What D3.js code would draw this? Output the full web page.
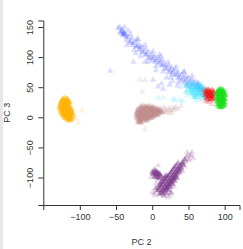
<!DOCTYPE html>
<html lang="en">
<head>
  <meta charset="UTF-8">
  <title>PC 2 vs PC 3</title>
  <script src="https://d3js.org/d3.v7.min.js"></script>
  <style>
    body { margin: 0; background: #fff; }
    text { font-family: "Liberation Sans", Arial, sans-serif; }
  </style>
</head>
<body>
  <script>

    // tick values
    var xTicks = [-100, -50, 0, 50, 100];
    var yTicks = [-100, -50, 0, 50, 100, 150];

    // points per group, [PC 2, PC 3]; core = dense part, faint = scattered ones
    var orangeCore = [[-123,31],[-120,32],[-117,30],[-125,28],[-122,28],[-119,27],[-116,28],
      [-126,25],[-123,24],[-120,25],[-117,24],[-114,25],[-127,22],[-124,21],[-121,22],[-118,21],[-115,22],
      [-127,19],[-124,18],[-121,19],[-118,18],[-115,19],[-128,16],[-125,15],[-122,16],[-119,15],[-116,16],[-113,15],
      [-127,13],[-124,12],[-121,13],[-118,12],[-115,13],[-112,12],[-126,10],[-123,9],[-120,10],[-117,9],[-114,10],[-111,9],
      [-125,7],[-122,6],[-119,7],[-116,6],[-113,7],[-110,6],[-124,4],[-121,3],[-118,4],[-115,3],[-112,4],
      [-122,1],[-119,0],[-116,1],[-113,0],[-110,1],[-120,-2],[-117,-3],[-114,-2],[-111,-3],[-116,-5],[-113,-5]];
    var orangeFaint = [[-108,4],[-97,11],[-102,-9],[-106,-1],[-109,14]];

    var rosyCore = [[-16,18],[-12,19],[-8,18],[-4,19],[0,17],
      [-20,14],[-16,15],[-12,14],[-8,15],[-4,14],[0,14],[4,15],[8,14],
      [-21,10],[-17,11],[-13,10],[-9,10],[-5,11],[-1,10],[3,10],[7,11],[11,10],
      [-22,6],[-18,6],[-14,7],[-10,6],[-6,6],[-2,7],[2,6],[6,6],[10,7],[14,8],
      [-22,2],[-18,2],[-14,3],[-10,2],[-6,2],[-2,3],[2,2],[6,3],
      [-21,-2],[-17,-2],[-13,-1],[-9,-2],[-5,-2],[-1,-1],
      [-20,-6],[-16,-6],[-12,-5],[-8,-6],[-19,-9],[-15,-9],
      [-14,16],[-10,17],[-6,16],[-2,16],[2,16],[6,13],[-18,12],[-14,12],[-10,12],[-6,13],[-2,12],[2,12],
      [6,12],[10,12],[-20,8],[-16,8],[-12,9],[-8,8],[-4,8],[0,9],[4,8],[8,8],[12,9],[-20,4],[-16,4],
      [-12,4],[-8,5],[-4,4],[0,4],[4,5],[8,4],[-19,0],[-15,0],[-11,1],[-7,0],[-3,0],[1,1],
      [-18,-4],[-14,-4],[-10,-3],[-6,-4],[-17,-8]];
    var rosyFaint = [[15,11],[18,13],[20,8],[22,15],[25,11],[27,16],[30,12],[33,17],[36,14],[40,19],
      [24,6],[12,15],[-10,-20],[-14,42],[-17,62],[-10,62],[16,17],[28,8],[18,9],[23,12],[31,15]];

    var purpleCore = [[12,-125],[15,-120],[18,-115],[21,-110],[24,-105],[27,-100],[30,-95],[33,-90],[36,-85],
      [39,-80],[42,-75],[45,-70],
      [16,-124],[19,-119],[22,-114],[25,-109],[28,-104],[31,-99],[34,-94],[37,-89],[40,-84],[43,-79],
      [9,-121],[12,-116],[15,-111],[18,-106],[21,-101],[24,-96],[27,-91],[30,-86],[33,-81],[36,-76],
      [20,-118],[23,-113],[26,-108],[29,-103],[32,-98],[11,-112],[14,-107],[17,-102],[20,-97],
      [7,-122],[10,-128],[16,-130],[20,-127],[5,-118],
      [14,-122],[17,-117],[20,-112],[23,-107],[26,-102],[29,-97],[32,-92],[35,-87],[38,-82],[41,-77],
      [10,-118],[13,-113],[16,-108],[19,-103],[22,-98],[25,-93],[28,-88],[31,-83],
      [18,-122],[21,-117],[24,-112],[27,-107],[30,-102],[33,-97],[36,-92],[39,-87],
      [12,-108],[15,-103],[18,-98],[9,-114],[22,-121],[25,-116],[28,-111],[31,-106],[34,-101],[26,-125],[14,-126],
      [0,-91],[3,-88],[6,-90],[9,-93],[2,-95],[5,-97],[8,-98],[11,-96],[4,-93],[7,-94],[12,-100],
      [1,-93],[4,-90],[7,-92],[10,-95],[3,-99],[6,-100],[9,-101]];
    var purpleFaint = [[0,-125],[3,-130],[22,-133],[55,-58],[53,-64],[57,-68],[48,-58],[38,-92],
      [14,-98],[8,-80],[45,-82],[-2,-100],[50,-62],[52,-70],[48,-65],[46,-74],[44,-72],[47,-67],
      [5,-110],[8,-105],[42,-90],[30,-115],[3,-126],[25,-130],[34,-78],[50,-72],[54,-62]];

    var blueCore = [[-44,142],[-40,138],[-35,128],[-30,126],[-26,123],[-21,118],[-17,114],[-12,109],[-8,104],
      [-3,100],[1,98],[6,95],[11,92],[15,87],[20,81],[25,78],[29,76],[34,71],[38,67],[43,64],[47,62],
      [52,59],[57,56],[62,53],[66,51],[71,49],
      [-47,148],[-42,146],[-38,141],[-33,134],[-28,131],[-23,126],[-18,120],[-14,117],[-9,113],[-5,108],
      [0,104],[4,101],[9,98],[14,95],[18,88],[23,85],[27,82],[32,79],[36,74],[41,71],[46,68],[50,66],
      [55,63],[60,59],[64,56],
      [-40,136],[-36,133],[-31,124],[-27,120],[-22,117],[-18,112],[-14,108],[-9,104],[-5,98],[0,94],
      [4,92],[9,89],[13,86],[18,81],[23,75],[27,72],[31,70],[36,65],[40,61],[45,58],[49,56],[54,53],
      [59,50],[64,47],[68,46],[-43,140],[-41,143],[-39,139],[-37,137]];
    var blueFaint = [[-58,77],[-26,92],[1,62],[8,51],[13,56],[15,47],[24,54],[-33,144],[-20,130],[-10,92],
      [5,78],[20,66],[28,60],[35,52],[-45,150],[-38,150],[10,104],[44,75],[-23,106],
      [-30,138],[-20,129],[-10,120],[1,110],[12,101],[22,91],[33,84],[44,76],[55,69],
      [-35,120],[-25,112],[-16,101],[-6,92],[5,85],[15,76],[26,66],[36,58],[47,52]];

    var cyanCore = [[48,52],[52,55],[55,50],[58,53],[61,48],[64,52],[67,50],[70,47],[73,45],[50,46],[54,44],
      [57,42],[60,45],[63,41],[66,44],[69,40],[72,42],[56,38],[60,36],[64,38],[68,36],[62,50],[58,47],
      [65,46],[53,40],[75,40],[71,36],[47,42],[51,50],[56,56],[63,56],[68,54],[60,40],[66,39],[62,33],
      [70,32],[57,33],[74,35],[54,47],[67,47]];
    var cyanFaint = [[8,32],[15,33],[29,30],[38,29],[31,29],[42,27],[66,29],[75,31],[44,55],[40,50],[52,60],
      [48,36],[60,28]];

    var redCore = [[74,45],[77,46],[80,44],[83,45],[73,41],[76,42],[79,40],[82,41],[85,42],[74,37],[77,38],
      [80,36],[83,37],[86,38],[75,33],[78,34],[81,32],[84,33],[76,30],[80,29],[83,30],[78,43],[81,39],
      [75,39],[79,35],[82,35]];
    var redFaint = [[78,25],[82,22],[73,27],[86,27],[70,44],[76,26]];

    var greenCore = [[92,46],[95,47],[98,45],[90,42],[93,43],[96,42],[99,41],[89,38],[92,39],[95,38],[98,39],
      [101,37],[90,34],[93,35],[96,34],[99,33],[89,30],[92,31],[95,30],[98,29],[100,30],[90,26],[93,27],
      [96,26],[99,25],[91,22],[94,21],[97,22],[100,21],[92,18],[95,17],[98,18]];
    var greenFaint = [[88,44],[102,44],[101,26],[94,15],[88,20]];

    // drawing order, bottom to top
    var groups = [
      { core: orangeCore, faint: orangeFaint, color: "#ffb000", a: 0.55 },
      { core: rosyCore, faint: rosyFaint, color: "#bc8585", a: 0.4 },
      { core: purpleCore, faint: purpleFaint, color: "#7a3488", a: 0.42 },
      { core: blueCore, faint: blueFaint, color: "#2233ff", a: 0.2 },
      { core: cyanCore, faint: cyanFaint, color: "#22ddff", a: 0.35 },
      { core: redCore, faint: redFaint, color: "#ee1111", a: 0.45 },
      { core: greenCore, faint: greenFaint, color: "#11dd11", a: 0.65 }
    ];

    var width = 243, height = 249;

    var svg = d3.select("body")
      .append("svg")
        .attr("width", width)
        .attr("height", height);

    // light strip on the left edge
    svg.append("rect")
      .attr("x", 0).attr("y", 0)
      .attr("width", 3).attr("height", height)
      .attr("fill", "#e8e8e8");

    var x = d3.scaleLinear().domain([-150.4, 120.5]).range([43.3, 239.5]);
    var y = d3.scaleLinear().domain([-145.7, 160.8]).range([205, 20.5]);

    var tri = d3.symbol().type(d3.symbolTriangle).size(18);

    groups.forEach(function(g) {
      var layer = svg.append("g");
      layer.selectAll("path.faint")
        .data(g.faint)
        .enter().append("path")
          .attr("class", "faint")
          .attr("d", tri)
          .attr("transform", function(d) { return "translate(" + x(d[0]) + "," + y(d[1]) + ")"; })
          .attr("fill", g.color)
          .attr("fill-opacity", 0.16);
      layer.selectAll("path.core")
        .data(g.core)
        .enter().append("path")
          .attr("class", "core")
          .attr("d", tri)
          .attr("transform", function(d) { return "translate(" + x(d[0]) + "," + y(d[1]) + ")"; })
          .attr("fill", g.color)
          .attr("fill-opacity", g.a);
    });

    // axes
    var xAxis = svg.append("g")
      .attr("transform", "translate(0,205)")
      .call(d3.axisBottom(x).tickValues(xTicks).tickSizeOuter(0).tickSize(5).tickFormat(d3.format("d")));
    xAxis.selectAll("text").attr("y", 9).attr("dy", "0.71em");

    var yAxis = svg.append("g")
      .attr("transform", "translate(43.3,0)")
      .call(d3.axisLeft(y).tickValues(yTicks).tickSizeOuter(0).tickSize(5).tickFormat(d3.format("d")));
    yAxis.selectAll("text")
      .attr("x", null).attr("dy", null)
      .attr("text-anchor", "middle")
      .attr("transform", "translate(-10,0) rotate(-90)");

    svg.selectAll(".domain, .tick line").attr("stroke", "#333");
    svg.selectAll(".tick text").attr("fill", "#333").attr("font-size", 9)
      .style("font-family", "'Liberation Sans', Arial, sans-serif");

    // axis titles
    svg.append("text")
      .attr("x", 141.4).attr("y", 245)
      .attr("text-anchor", "middle")
      .attr("font-size", 9).attr("fill", "#333")
      .text("PC 2");

    svg.append("text")
      .attr("transform", "translate(10.3,112.75) rotate(-90)")
      .attr("text-anchor", "middle")
      .attr("font-size", 9).attr("fill", "#333")
      .text("PC 3");

  </script>
</body>
</html>
